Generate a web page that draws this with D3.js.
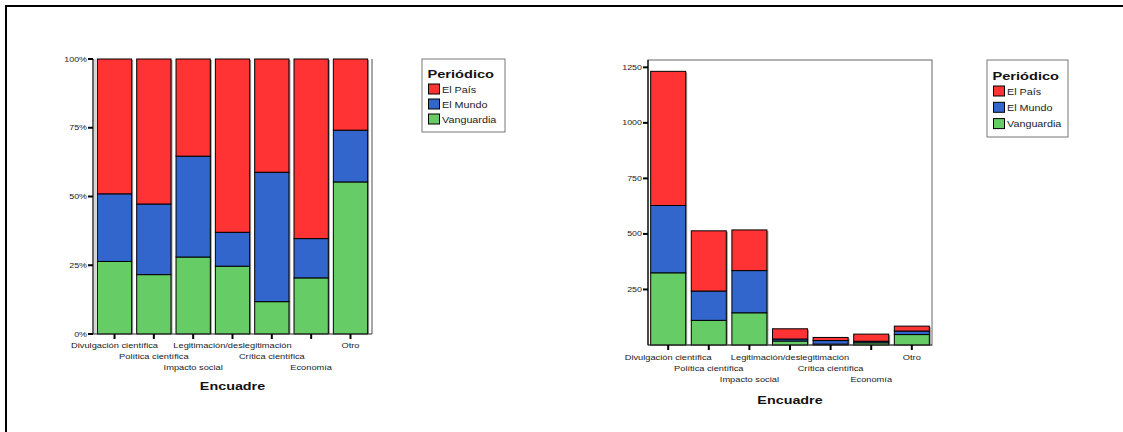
<!DOCTYPE html>
<html><head><meta charset="utf-8">
<script src="https://cdn.jsdelivr.net/npm/d3@7"></script>
<style>
html,body{margin:0;padding:0;background:#fff;}
svg{display:block;font-family:Arial,"Liberation Sans",sans-serif;}
</style></head>
<body>
<svg id="c" width="1123" height="432"></svg>
<script>
const categories = ["Divulgación científica","Política científica","Impacto social","Legitimación/deslegitimación","Crítica científica","Economía","Otro"];
const periodicos = ["El País","El Mundo","Vanguardia"];
const vanguardia = [325,111,145,18,4,10,47];
const elMundo    = [303,132,190,9,16,7,16];
const elPais     = [604,271,183,46,14,32,22];
const pctTicks   = [0,0.25,0.5,0.75,1];
const pctLabels  = ["0%","25%","50%","75%","100%"];
const countTicks = [250,500,750,1000,1250];
const axisTitle  = "Encuadre";
const legendTitle = "Periódico";

const colors = {"El País":"#ff3333","El Mundo":"#3366cc","Vanguardia":"#66cc66"};
const SX = 1.27;
const svg = d3.select("#c");

// outer border
svg.append("line").attr("x1",6).attr("y1",6).attr("x2",1123).attr("y2",6).attr("stroke","#000").attr("stroke-width",2);
svg.append("line").attr("x1",6).attr("y1",5).attr("x2",6).attr("y2",432).attr("stroke","#000").attr("stroke-width",2);

const rows = categories.map((c,i)=>({cat:c,"Vanguardia":vanguardia[i],"El Mundo":elMundo[i],"El País":elPais[i]}));
const stackKeys = ["Vanguardia","El Mundo","El País"];

function txt(g,x,y,s,size,anchor,weight,fill){
  return g.append("text").attr("transform",`translate(${x},${y}) scale(${SX},1)`)
    .attr("font-size",size).attr("text-anchor",anchor||"start")
    .attr("font-weight",weight||"normal").attr("fill",fill||"#222").text(s);
}

function chart(o){
  const g = svg.append("g");
  const x = d3.scaleBand().domain(categories).range([o.x0,o.x1]).paddingInner(o.pi).paddingOuter(o.po);
  const y = d3.scaleLinear().domain(o.domain).range([o.y1,o.y0]);
  const stack = d3.stack().keys(stackKeys);
  if(o.expand) stack.offset(d3.stackOffsetExpand);
  const series = stack(rows);
  // frame
  if(o.fullFrame){
    g.append("rect").attr("x",o.x0).attr("y",o.y0).attr("width",o.x1-o.x0).attr("height",o.y1-o.y0)
      .attr("fill","none").attr("stroke","#666").attr("stroke-width",1);
  } else {
    g.append("line").attr("x1",o.x1).attr("x2",o.x1).attr("y1",o.y0).attr("y2",o.y1).attr("stroke","#888").attr("stroke-width",1.5);
    g.append("line").attr("x1",o.x0+2).attr("x2",o.x0+2).attr("y1",o.y0).attr("y2",o.y1).attr("stroke","#aaa").attr("stroke-width",1);
  }
  // shadows
  const top = series[series.length-1];
  g.selectAll(".sh").data(top).join("rect")
    .attr("x",d=>x(d.data.cat)+1.5).attr("y",d=>y(d[1])+1)
    .attr("width",x.bandwidth()).attr("height",d=>y(d[0]>=0?0:0)-y(d[1])-1)
    .attr("fill","#999");
  series.forEach(s=>{
    g.selectAll(null).data(s).join("rect")
      .attr("x",d=>x(d.data.cat)).attr("y",d=>y(d[1]))
      .attr("width",x.bandwidth()).attr("height",d=>Math.max(0,y(d[0])-y(d[1])))
      .attr("fill",colors[s.key]).attr("stroke","#000").attr("stroke-width",1);
  });
  // axes lines
  g.append("line").attr("x1",o.x0).attr("x2",o.x0).attr("y1",o.y0).attr("y2",o.y1).attr("stroke","#000").attr("stroke-width",1.2);
  g.append("line").attr("x1",o.x0).attr("x2",o.x1).attr("y1",o.y1).attr("y2",o.y1).attr("stroke","#333").attr("stroke-width",1.2);
  // y ticks
  o.ticks.forEach((t,i)=>{
    g.append("line").attr("x1",o.x0-5).attr("x2",o.x0).attr("y1",y(t)).attr("y2",y(t)).attr("stroke","#000").attr("stroke-width",2);
    txt(g,o.x0-6,y(t)+2.5,o.labels[i],7,"end");
  });
  // x ticks
  categories.forEach((c,i)=>{
    const cx = x(c)+x.bandwidth()/2;
    g.append("line").attr("x1",cx).attr("x2",cx).attr("y1",o.y1).attr("y2",o.y1+5).attr("stroke","#000").attr("stroke-width",2);
    txt(g,cx,o.y1+o.lab0+(i%3)*11,c,7.3,"middle");
  });
  txt(g,(o.x0+o.x1)/2,o.y1+o.titleDy,axisTitle,11.3,"middle","bold","#111");
  // legend
  const L = o.leg;
  g.append("rect").attr("x",L.x).attr("y",L.y).attr("width",L.w).attr("height",L.h)
    .attr("fill","#fff").attr("stroke","#777").attr("stroke-width",1);
  txt(g,L.x+5.5,L.y+L.tdy,legendTitle,11.5,"start","bold","#111");
  periodicos.forEach((p,i)=>{
    const sy = L.y+L.sdy+i*L.step;
    g.append("rect").attr("x",L.x+6.5).attr("y",sy).attr("width",11).attr("height",10)
      .attr("fill",colors[p]).attr("stroke","#000").attr("stroke-width",1);
    txt(g,L.x+20,sy+8.5,p,8.5,"start","normal","#222");
  });
}

chart({x0:93,x1:372,y0:59,y1:334,pi:0.128,po:0.111,domain:[0,1],expand:true,fullFrame:false,
  ticks:pctTicks,labels:pctLabels,lab0:14,titleDy:56,
  leg:{x:422,y:59,w:83,h:73,tdy:19,sdy:25,step:15}});
chart({x0:648,x1:932,y0:60,y1:345,pi:0.138,po:0.066,domain:[0,1283],expand:false,fullFrame:true,
  ticks:countTicks,labels:countTicks.map(String),lab0:15,titleDy:59,
  leg:{x:987,y:60,w:81,h:77,tdy:20,sdy:26,step:16.3}});
</script>
</body></html>
